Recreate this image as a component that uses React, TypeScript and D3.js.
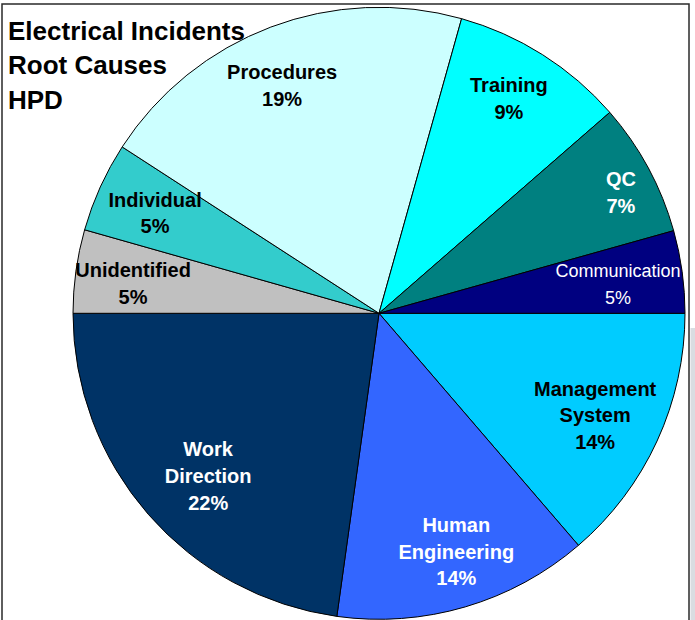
import React from "react";
import * as d3 from "d3";

// Slice order: clockwise starting at 3 o'clock
const categories: string[][] = [
  ["Management", "System"],
  ["Human", "Engineering"],
  ["Work", "Direction"],
  ["Unidentified"],
  ["Individual"],
  ["Procedures"],
  ["Training"],
  ["QC"],
  ["Communication"],
];
// slice shares (percent of the circle)
const shares: number[] = [13.7, 13.5, 22.8, 4.4, 4.75, 20.2, 9.25, 7.05, 4.35];
// percent labels as printed on the chart
const pctLabels: string[] = ["14%", "14%", "22%", "5%", "5%", "19%", "9%", "7%", "5%"];
const colors: string[] = [
  "#00CCFF",
  "#3366FF",
  "#003366",
  "#C0C0C0",
  "#33CCCC",
  "#CCFFFF",
  "#00FFFF",
  "#008080",
  "#000080",
];
const textColors: string[] = ["#000", "#fff", "#fff", "#000", "#000", "#000", "#000", "#fff", "#fff"];
const boldFlags: boolean[] = [true, true, true, true, true, true, true, true, false];
const titleLines: string[] = ["Electrical Incidents", "Root Causes", "HPD"];

// label placement (layout): radius in px and angular nudge in degrees per slice
const labelRadius: number[] = [239, 250.5, 235.7, 247.8, 245.5, 248, 251.4, 270.6, 240.8];
const labelNudgeDeg: number[] = [0.6, -1.6, -2.5, -0.9, -0.2, -2.3, -1.2, 1.75, 0.8];

export default function App() {
  const W = 695;
  const H = 620;
  const cx = 379;
  const cy = 313.3;
  const r = 306;
  const lh = 26.7;

  const pie = d3
    .pie<number>()
    .sort(null)
    .value((d) => d)
    .startAngle(Math.PI / 2)
    .endAngle(Math.PI / 2 + 2 * Math.PI);
  const arcs = pie(shares);
  const arc = d3.arc<d3.PieArcDatum<number>>().innerRadius(0).outerRadius(r);

  return (
    <svg
      width={W}
      height={H}
      style={{ position: "absolute", left: 0, top: 0, background: "#fff" }}
      fontFamily="'Liberation Sans', Arial, sans-serif"
    >
      <rect x={0} y={0} width={W} height={H} fill="#fff" />
      <rect x={690.5} y={328} width={5} height={H - 328} fill="#d9dce1" />
      <rect x={2} y={4} width={687} height={H + 20} fill="none" stroke="#2a2a2a" strokeWidth={1.5} />
      <g transform={`translate(${cx},${cy})`}>
        {arcs.map((a, i) => (
          <path key={i} d={arc(a) || ""} fill={colors[i]} stroke="#000" strokeWidth={1} />
        ))}
        {arcs.map((a, i) => {
          const mid = (a.startAngle + a.endAngle) / 2 + (labelNudgeDeg[i] * Math.PI) / 180;
          const lx = labelRadius[i] * Math.sin(mid);
          const ly = -labelRadius[i] * Math.cos(mid);
          const lines = [...categories[i], pctLabels[i]];
          const n = lines.length;
          const fs = boldFlags[i] ? 20 : 18;
          const first = ly - ((n - 1) / 2) * lh + fs * 0.36;
          return (
            <text
              key={"t" + i}
              textAnchor="middle"
              fill={textColors[i]}
              fontSize={fs}
              fontWeight={boldFlags[i] ? "bold" : "normal"}
            >
              {lines.map((s, j) => (
                <tspan key={j} x={lx} y={first + j * lh}>
                  {s}
                </tspan>
              ))}
            </text>
          );
        })}
      </g>
      <text fontSize={26} fontWeight="bold" fill="#000">
        {titleLines.map((s, j) => (
          <tspan key={j} x={8} y={39.5 + j * 34.5}>
            {s}
          </tspan>
        ))}
      </text>
    </svg>
  );
}
